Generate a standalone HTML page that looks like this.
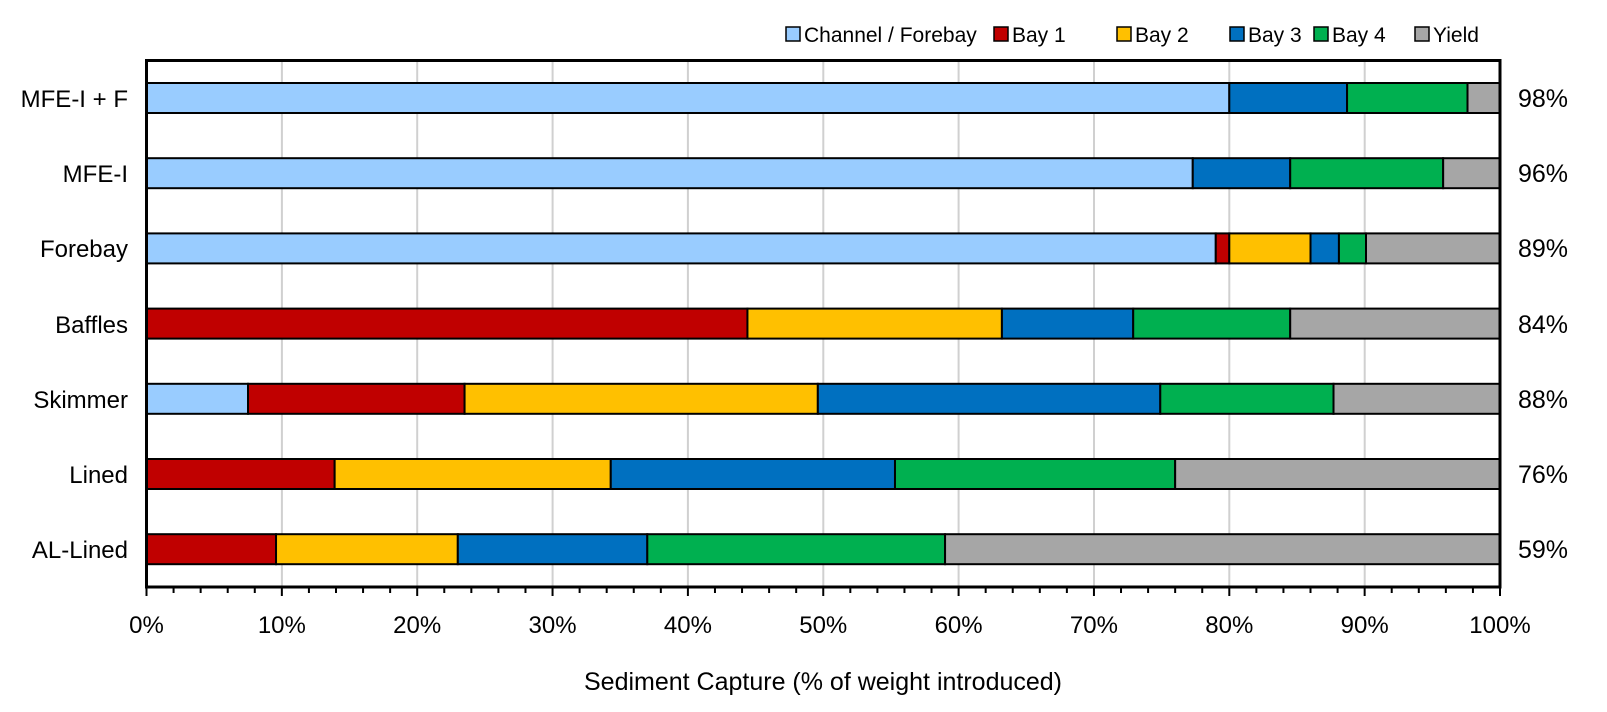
<!DOCTYPE html>
<html><head><meta charset="utf-8"><style>
body{margin:0;background:#fff}
svg{display:block}
text{font-family:"Liberation Sans",sans-serif;fill:#000}
</style></head><body>
<svg width="1607" height="712" viewBox="0 0 1607 712" xmlns="http://www.w3.org/2000/svg">
<g id="legend" font-size="21">
<rect x="786" y="27" width="14" height="14" fill="#99CCFF" stroke="#000" stroke-width="1.5"/><text x="804" y="42">Channel / Forebay</text>
<rect x="994" y="27" width="14" height="14" fill="#C00000" stroke="#000" stroke-width="1.5"/><text x="1012" y="42">Bay 1</text>
<rect x="1117" y="27" width="14" height="14" fill="#FFC000" stroke="#000" stroke-width="1.5"/><text x="1135" y="42">Bay 2</text>
<rect x="1230" y="27" width="14" height="14" fill="#0070C0" stroke="#000" stroke-width="1.5"/><text x="1248" y="42">Bay 3</text>
<rect x="1314" y="27" width="14" height="14" fill="#00B050" stroke="#000" stroke-width="1.5"/><text x="1332" y="42">Bay 4</text>
<rect x="1415" y="27" width="14" height="14" fill="#A6A6A6" stroke="#000" stroke-width="1.5"/><text x="1433" y="42">Yield</text>
</g>
<g stroke="#D0D0D0" stroke-width="2">
<line x1="281.9" y1="60" x2="281.9" y2="587"/><line x1="417.2" y1="60" x2="417.2" y2="587"/><line x1="552.6" y1="60" x2="552.6" y2="587"/><line x1="687.9" y1="60" x2="687.9" y2="587"/><line x1="823.3" y1="60" x2="823.3" y2="587"/><line x1="958.6" y1="60" x2="958.6" y2="587"/><line x1="1094" y1="60" x2="1094" y2="587"/><line x1="1229.3" y1="60" x2="1229.3" y2="587"/><line x1="1364.7" y1="60" x2="1364.7" y2="587"/>
</g>
<g id="bars" stroke="#000" stroke-width="2"></g>
<rect x="146.5" y="60.5" width="1353.5" height="526.5" fill="none" stroke="#000" stroke-width="3"/>
<g id="ticks" stroke="#000" stroke-width="2"></g>
<g font-size="24" text-anchor="end">
<text x="128" y="107">MFE-I + F</text><text x="128" y="182">MFE-I</text><text x="128" y="257">Forebay</text><text x="128" y="333">Baffles</text><text x="128" y="408">Skimmer</text><text x="128" y="483">Lined</text><text x="128" y="558">AL-Lined</text>
</g>
<g font-size="25">
<text x="1518" y="107">98%</text><text x="1518" y="182">96%</text><text x="1518" y="257">89%</text><text x="1518" y="333">84%</text><text x="1518" y="408">88%</text><text x="1518" y="483">76%</text><text x="1518" y="558">59%</text>
</g>
<g id="xl" font-size="24" text-anchor="middle"></g>
<text x="823" y="690" font-size="25" text-anchor="middle">Sediment Capture (% of weight introduced)</text>
</svg>
<script>
var X=function(p){return 146.5+p*13.535;};
var cols=["#99CCFF","#C00000","#FFC000","#0070C0","#00B050","#A6A6A6"];
var data=[
[[0,80.0],[3,88.7],[4,97.6],[5,100]],
[[0,77.3],[3,84.5],[4,95.8],[5,100]],
[[0,79.0],[1,80.0],[2,86.0],[3,88.1],[4,90.1],[5,100]],
[[1,44.4],[2,63.2],[3,72.9],[4,84.5],[5,100]],
[[0,7.5],[1,23.5],[2,49.6],[3,74.9],[4,87.7],[5,100]],
[[1,13.9],[2,34.3],[3,55.3],[4,76.0],[5,100]],
[[1,9.57],[2,23.0],[3,37.0],[4,59.0],[5,100]]];
var ns="http://www.w3.org/2000/svg",g=document.getElementById("bars");
data.forEach(function(r,i){var cy=98+i*75.2,s=0;r.forEach(function(seg){var e=document.createElementNS(ns,"rect");e.setAttribute("x",X(s));e.setAttribute("y",cy-15);e.setAttribute("width",X(seg[1])-X(s));e.setAttribute("height",30);e.setAttribute("fill",cols[seg[0]]);g.appendChild(e);s=seg[1];});});
var t=document.getElementById("ticks"),xl=document.getElementById("xl");
for(var p=0;p<=100;p+=2){var l=document.createElementNS(ns,"line");l.setAttribute("x1",X(p));l.setAttribute("x2",X(p));l.setAttribute("y1",587);l.setAttribute("y2",p%10==0?596:593);t.appendChild(l);
if(p%10==0){var tx=document.createElementNS(ns,"text");tx.setAttribute("x",X(p));tx.setAttribute("y",633);tx.textContent=p+"%";xl.appendChild(tx);}}
</script>
</body></html>
